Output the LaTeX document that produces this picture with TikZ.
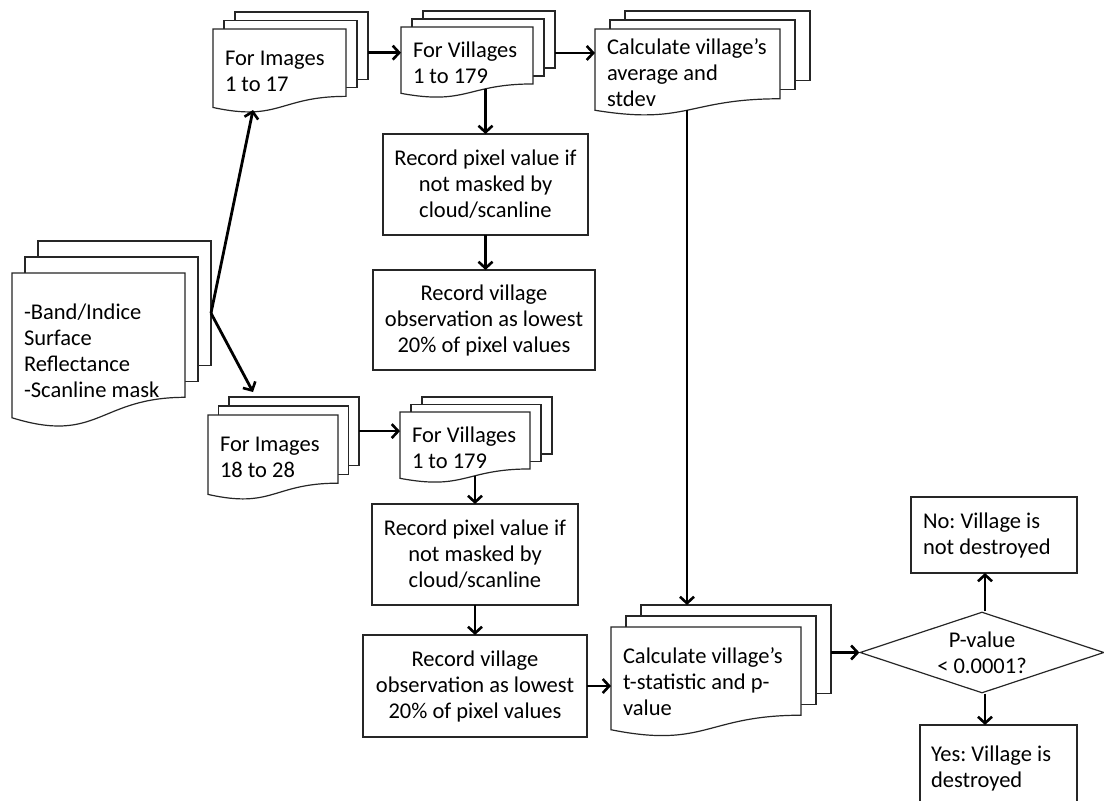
\documentclass[tikz,border=0pt]{standalone}
\usepackage{fontspec}
\setmainfont{Carlito}
\usetikzlibrary{arrows.meta,shapes.geometric}
\tikzset{
  txt/.style={font=\fontsize{22.5}{26}\selectfont\frenchspacing},
  sheet/.style={draw=black!85, line width=1.2pt, fill=white, inner sep=0pt, outer sep=0pt, rectangle},
  sheetline/.style={draw=black!85, line width=1.2pt, fill=white},
  doctext/.style={txt, inner xsep=12pt, inner ysep=0pt, outer sep=0pt, align=flush left},
  box/.style={txt, draw=black!85, line width=1.2pt, fill=white, inner sep=0pt, outer sep=0pt, align=center},
  arr/.style={draw=black, line width=2.8pt, -{Straight Barb[length=6.5pt,width=14pt,line width=2.6pt]}},
}
% name, x, y, w, h, dx, dy, text
\newcommand\mdoc[8]{%
  \node[sheet, minimum width=#4, minimum height={0.802*#5}, anchor=north west] (#1-back) at ({#2+2*#6},{#3-2*#7}) {};
  \node[sheet, minimum width=#4, minimum height={0.802*#5}, anchor=north west] (#1-mid) at ({#2+#6},{#3-#7}) {};
  \draw[sheetline] (#2,#3) -- ({#2+#4},#3) -- ({#2+#4},{#3+0.802*#5})
     .. controls ({#2+0.5*#4},{#3+0.802*#5}) and ({#2+0.5*#4},{#3+1.107*#5}) .. (#2,{#3+0.934*#5}) -- cycle;
  \node[doctext, minimum width=#4, text width={#4-24}, minimum height=#5, anchor=north west] (#1) at (#2,#3) {#8};
}
\begin{document}
\begin{tikzpicture}[x=1pt,y=-1pt]
\useasboundingbox (0,0) rectangle (1104,801);
\clip (0,0) rectangle (1104,801);
\fill[white] (0,0) rectangle (1104,801);

% multi-document shapes
\mdoc{in}{12}{273}{173}{155}{13}{16}{-Band/Indice\\Surface\\Reflectance\\-Scanline mask}
\mdoc{img1}{213}{29}{133}{84}{11}{8.5}{For Images\\1 to 17}
\mdoc{vil1}{401}{27}{132}{71}{11}{8}{For Villages\\1 to 179}
\mdoc{calc}{595}{29}{185}{87}{15}{9}{Calculate village’s\\average and\\stdev}
\mdoc{img2}{208}{415}{130}{85}{10.5}{9}{For Images\\18 to 28}
\mdoc{vil2}{400}{412}{130}{71}{11}{7.5}{For Villages\\1 to 179}
\mdoc{tstat}{611}{627}{190}{110}{15}{11}{Calculate village’s\\t-statistic and p-\\value}

% process boxes
\node[box, minimum width=205, minimum height=101] (rec1) at (485.5,184.5) {Record pixel value if\\not masked by\\cloud/scanline};
\node[box, minimum width=222, minimum height=100] (rec2) at (484,320) {Record village\\observation as lowest\\20\% of pixel values};
\node[box, minimum width=206, minimum height=101] (rec3) at (475,554.5) {Record pixel value if\\not masked by\\cloud/scanline};
\node[box, minimum width=224, minimum height=102] (rec4) at (475,686) {Record village\\observation as lowest\\20\% of pixel values};

% decision
\node[diamond, aspect=3, draw=black!85, line width=1.2pt, fill=white, inner sep=0pt,
      minimum width=244, minimum height=81, align=center, txt] (dia) at (982,652.5) {P-value\\< 0.0001?};
\node[box, minimum width=166, minimum height=76, text width=142, align=flush left] (no) at (994,535) {No: Village is\\not destroyed};
\node[box, minimum width=157, minimum height=86, text width=135, align=flush left] (yes) at (998.5,768) {Yes: Village is\\destroyed};

% named coordinates for free ends
\coordinate (split) at ([yshift=-10pt]in-back.east);
\coordinate (img1in) at ([xshift=40pt,yshift=3pt]img1.south west);
\coordinate (img2in) at ([xshift=24pt,yshift=5pt]img2-back.north west);
\coordinate (v1out) at (485.5,89);
\coordinate (v2out) at (475,476);
\coordinate (cout) at (687,110);

% connectors
\draw[arr] (split) -- (img1in);
\draw[arr] (split) -- (img2in);
\draw[arr] ([yshift=-7pt]img1-back.east) -- ([yshift=-7pt]img1-back.east -| vil1.west);
\draw[arr] ([yshift=-13.5pt]vil1-back.east) -- ([yshift=-13.5pt]vil1-back.east -| calc.west);
\draw[arr] (v1out) -- (rec1.north);
\draw[arr] (rec1.south) -- (rec1.south |- rec2.north);
\draw[arr] (cout) -- (cout |- tstat-back.north);
\draw[arr] (img2-back.east) -- (img2-back.east -| vil2.west);
\draw[arr] (v2out) -- (rec3.north);
\draw[arr] (rec3.south) -- (rec4.north);
\draw[arr] (rec4.east) -- (rec4.east -| tstat.west);
\draw[arr] (tstat-back.east |- dia.west) -- (dia.west);
\draw[arr] ([xshift=3pt]dia.north) -- ([xshift=3pt]dia.north |- no.south);
\draw[arr] ([xshift=3pt]dia.south) -- ([xshift=3pt]dia.south |- yes.north);
\end{tikzpicture}
\end{document}
